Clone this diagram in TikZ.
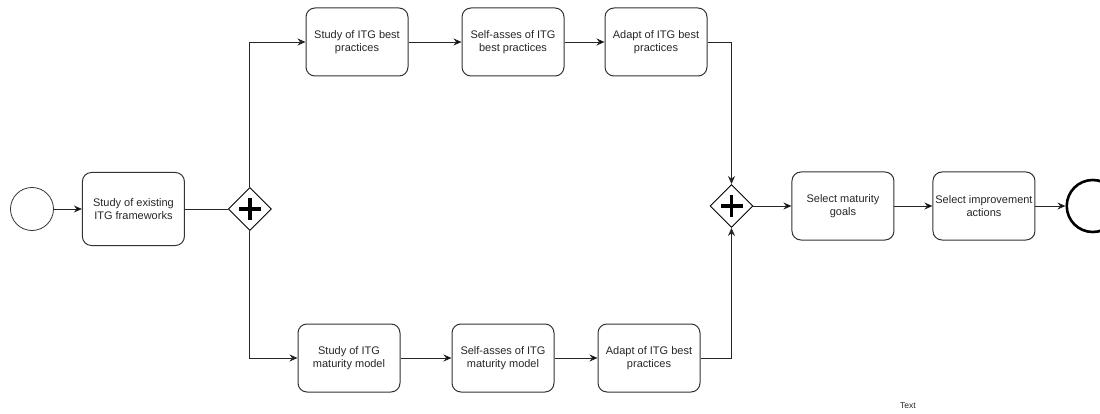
\documentclass[tikz,border=0pt]{standalone}
\usepackage{fontspec}
\setmainfont{Liberation Sans}
\usepackage{tikz}
\usetikzlibrary{arrows.meta}
\usetikzlibrary{calc}
\usetikzlibrary{shapes.geometric}
\usetikzlibrary{positioning}

\begin{document}
\begin{tikzpicture}[x=1pt,y=-1pt,>={Stealth[length=8pt,width=7pt]},
        task/.style={draw=black!80, line width=1pt, rounded corners=9pt, align=center,
                     minimum width=102pt, minimum height=68pt, inner sep=2pt,
                     font=\fontsize{11}{13}\selectfont, text=black!85},
        gate/.style={draw=black, line width=0.9pt, diamond, aspect=1, minimum size=43pt, inner sep=0pt},
        flow/.style={->, draw=black!85, line width=0.8pt}]
        \useasboundingbox (0,0) rectangle (1100,414);
        \node[circle, draw=black!80, line width=0.8pt, minimum size=43pt, inner sep=0pt] (start) at (32,209) {};
        \node[task, minimum height=73pt, right=28pt of start] (fw) {Study of existing\\ITG frameworks};
        \node[gate, right=43pt of fw] (gw1) {};

        % upper branch
        \node[task] (bestA) at (357,42) {Study of ITG best\\practices};
        \node[task, right=53pt of bestA] (bestB) {Self-asses of ITG\\best practices};
        \node[task, right=40pt of bestB] (bestC) {Adapt of ITG best\\practices};

        % lower branch
        \node[task] (matA) at (349,358) {Study of ITG\\maturity model};
        \node[task, right=51pt of matA] (matB) {Self-asses of ITG\\maturity model};
        \node[task, right=43pt of matB] (matC) {Adapt of ITG best\\practices};

        \node[gate] (gw2) at (731.5,206) {};
        \node[task, right=38pt of gw2] (goals) {Select maturity\\goals};
        \node[task, right=38pt of goals] (actions) {Select improvement\\actions};
        \node[circle, draw=black, line width=2.6pt, minimum size=52pt, inner sep=0pt, right=30pt of actions] (end) {};

        \node[font=\fontsize{8.5}{10}\selectfont, text=black!85] (note) at (908,406) {Text};

        % plus marks of the gateways
        \foreach \g in {gw1, gw2} {
            \draw[line width=3.8pt] ([xshift=-11pt]\g.center) -- ([xshift=11pt]\g.center);
            \draw[line width=3.8pt] ([yshift=-11pt]\g.center) -- ([yshift=11pt]\g.center);
        }

        \path[flow] (start) edge (fw);
        \draw[draw=black!85, line width=0.8pt] (fw) -- (gw1);
        \draw[flow] (gw1.north) |- (bestA.west);
        \draw[flow] (gw1.south) |- (matA.west);
        \path[flow] (bestA) edge (bestB)
                    (bestB) edge (bestC)
                    (matA) edge (matB)
                    (matB) edge (matC);
        \draw[flow] (bestC.east) -| (gw2.north);
        \draw[flow] (matC.east) -| (gw2.south);
        \path[flow] (gw2) edge (goals)
                    (goals) edge (actions)
                    (actions) edge (end);
    \end{tikzpicture}
\end{document}
